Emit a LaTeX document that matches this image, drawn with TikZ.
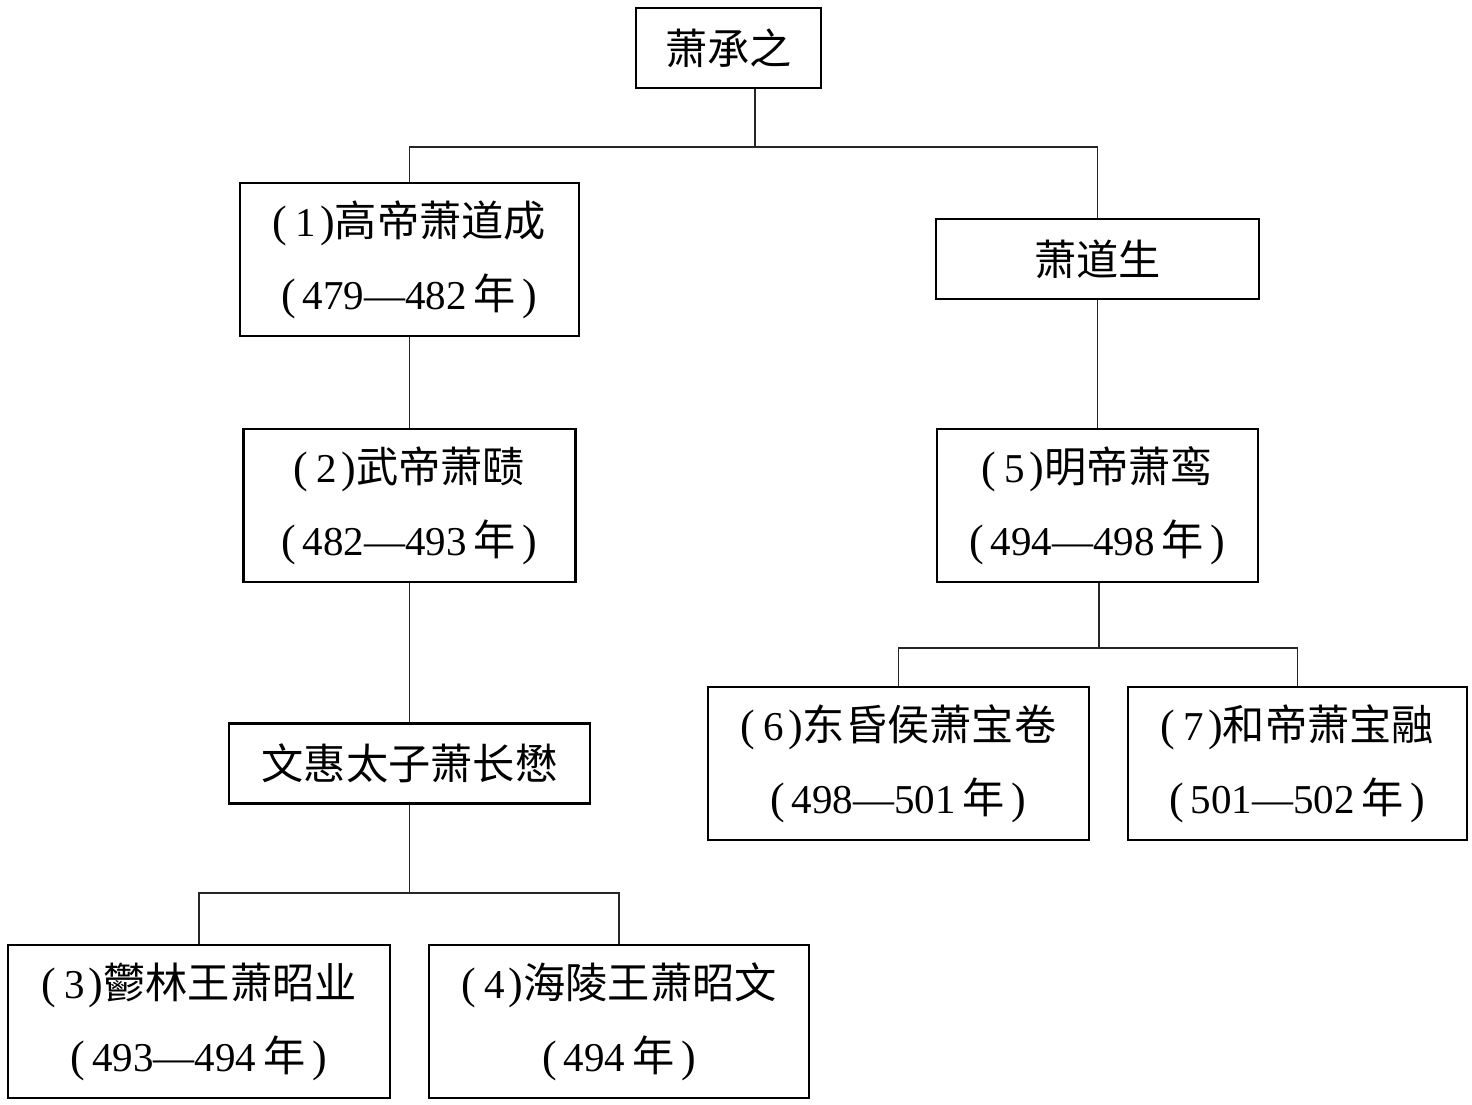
\documentclass[tikz,border=0pt]{standalone}
\usepackage{fontspec}
\setmainfont{Liberation Serif}
\newfontfamily\cjk{Noto Sans CJK SC}[Scale=1.03]
\newcommand{\zh}[1]{{\cjk #1}}
\newcommand{\lp}{{\fontsize{22}{0}\selectfont(}}
\newcommand{\rp}{{\fontsize{22}{0}\selectfont)}}

\begin{document}
\begin{tikzpicture}
    [x=0.5pt, y=-0.5pt,
     every node/.style={draw, line width=1.3pt, align=center, inner sep=0pt,
                        font=\fontsize{20.5}{36.5}\selectfont},
     one/.style={minimum height=40pt},
     two/.style={minimum height=76.5pt},
     link/.style={draw=black!85, line width=0.8pt},
    ]
    \useasboundingbox (0,0) rectangle (1472,1104);

    \node (chengzhi) [one, minimum width=92.5pt] at (728.5,48) {\zh{萧承之}};
    \node (daocheng) [two, minimum width=169.5pt] at (409.5,259.5) {
        \lp\hspace{0.2em}1\hspace{0.1em}\rp\zh{高帝萧道成}\\
        \lp\,479—482\,\zh{年}\,\rp
    };
    \node (daosheng) [one, minimum width=161.5pt] at (1097.5,259) {\zh{萧道生}};
    \node (ze) [two, minimum width=166pt] at (409.5,505.5) {
        \lp\hspace{0.2em}2\hspace{0.1em}\rp\zh{武帝萧赜}\\
        \lp\,482—493\,\zh{年}\,\rp
    };
    \node (luan) [two, minimum width=160.5pt] at (1097.5,505.5) {
        \lp\hspace{0.2em}5\hspace{0.1em}\rp\zh{明帝萧鸾}\\
        \lp\,494—498\,\zh{年}\,\rp
    };
    \node (changmao) [one, minimum width=180.5pt] at (409.5,763.5) {\zh{文惠太子萧长懋}};
    \node (baojuan) [two, minimum width=190.5pt] at (898.5,763.5) {
        \lp\hspace{0.2em}6\hspace{0.1em}\rp\zh{东昏侯萧宝卷}\\
        \lp\,498—501\,\zh{年}\,\rp
    };
    \node (baorong) [two, minimum width=169.5pt] at (1297.5,763.5) {
        \lp\hspace{0.2em}7\hspace{0.1em}\rp\zh{和帝萧宝融}\\
        \lp\,501—502\,\zh{年}\,\rp
    };
    \node (zhaoye) [two, minimum width=191pt] at (199,1021.5) {
        \lp\hspace{0.2em}3\hspace{0.1em}\rp\zh{鬱林王萧昭业}\\
        \lp\,493—494\,\zh{年}\,\rp
    };
    \node (zhaowen) [two, minimum width=190pt] at (619,1021.5) {
        \lp\hspace{0.2em}4\hspace{0.1em}\rp\zh{海陵王萧昭文}\\
        \lp\,494\,\zh{年}\,\rp
    };

    \coordinate (top) at (755,147);
    \coordinate (mid) at (409.5,893);
    \coordinate (low) at (1099,648);

    \draw [link] (chengzhi.south -| top) -- (top);
    \draw [link] (daocheng.north) |- (top) -| (daosheng.north);

    \draw [link] (daocheng) -- (ze);
    \draw [link] (ze) -- (changmao);
    \draw [link] (changmao) -- (mid);
    \draw [link] (zhaoye.north) |- (mid) -| (zhaowen.north);

    \draw [link] (daosheng) -- (luan);
    \draw [link] (luan.south -| low) -- (low);
    \draw [link] (baojuan.north) |- (low) -| (baorong.north);

\end{tikzpicture}
\end{document}
